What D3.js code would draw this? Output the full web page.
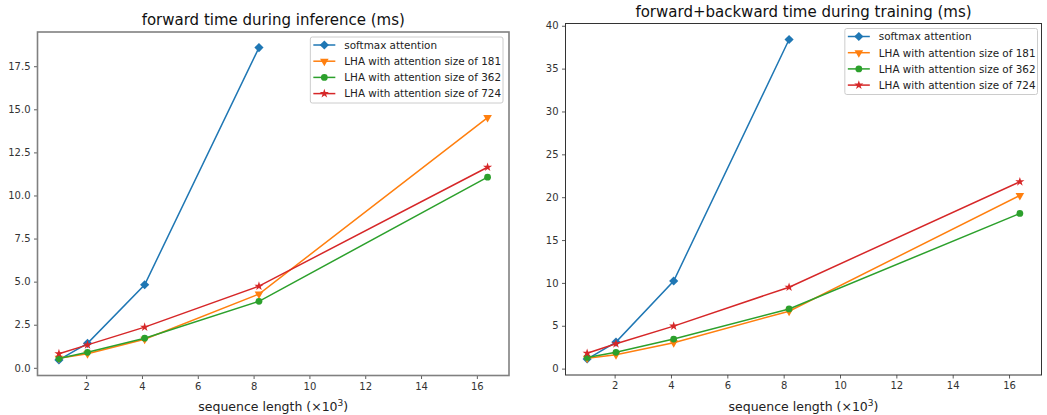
<!DOCTYPE html>
<html>
<head>
<meta charset="utf-8">
<script src="https://cdn.jsdelivr.net/npm/d3@7"></script>
<style>
  body { margin: 0; background: #fff; }
  svg { display: block; font-family: "DejaVu Sans", sans-serif; }
</style>
</head>
<body>
<svg id="chart" width="1047" height="415"></svg>
<script>
// sequence length in thousands
var seqLen = [1.024, 2.048, 4.096, 8.192, 16.384];

var seriesNames = ["softmax attention", "LHA with attention size of 181",
  "LHA with attention size of 362", "LHA with attention size of 724"];
var colors = ["#1f77b4", "#ff7f0e", "#2ca02c", "#d62728"];
var markers = ["diamond", "triangle", "circle", "star"];

// inference, forward only (ms)
var inferSoftmax = [0.46, 1.42, 4.82, 18.58];
var infer181 = [0.56, 0.82, 1.66, 4.28, 14.52];
var infer362 = [0.54, 0.90, 1.72, 3.86, 11.06];
var infer724 = [0.82, 1.33, 2.36, 4.74, 11.64];

// training, forward + backward (ms)
var trainSoftmax = [1.12, 3.10, 10.22, 38.40];
var train181 = [1.20, 1.62, 3.02, 6.70, 20.20];
var train362 = [1.30, 1.90, 3.45, 6.96, 18.10];
var train724 = [1.80, 2.90, 4.96, 9.50, 21.80];

var yTicksLeft = [0, 2.5, 5, 7.5, 10, 12.5, 15, 17.5];
var yTicksRight = [0, 5, 10, 15, 20, 25, 30, 35, 40];
var xTicks = [2, 4, 6, 8, 10, 12, 14, 16];

var svg = d3.select("#chart");

function markerPath(kind) {
  if (kind == "diamond") return d3.symbol(d3.symbolSquare, 42)();
  if (kind == "triangle") return d3.symbol(d3.symbolTriangle, 32)();
  if (kind == "circle") return d3.symbol(d3.symbolCircle, 36)();
  return d3.symbol(d3.symbolStar, 26)();
}
function markerRotate(kind) {
  if (kind == "diamond") return 45;
  if (kind == "triangle") return 180;
  return 0;
}

function drawPanel(opt) {
  var g = svg.append("g");
  var all = d3.merge(opt.series);
  var ext = d3.extent(all), pad = (ext[1] - ext[0]) * 0.05;
  var xe = d3.extent(seqLen), xpad = (xe[1] - xe[0]) * 0.05;

  var x = d3.scaleLinear().domain([xe[0] - xpad, xe[1] + xpad]).range([opt.left, opt.right]);
  var y = d3.scaleLinear().domain([ext[0] - pad, ext[1] + pad]).range([opt.bottom, opt.top]);

  // axes
  var xAxis = g.append("g")
    .attr("transform", "translate(0," + opt.bottom + ")")
    .call(d3.axisBottom(x).tickValues(xTicks).tickSize(3.5).tickPadding(3.5).tickFormat(d3.format("d")));
  var yAxis = g.append("g")
    .attr("transform", "translate(" + opt.left + ",0)")
    .call(d3.axisLeft(y).tickValues(opt.yTicks).tickSize(3.5).tickPadding(3.5).tickFormat(d3.format(opt.yFormat)));
  [xAxis, yAxis].forEach(function (a) {
    a.select(".domain").remove();
    a.selectAll("line").attr("stroke", "#333").attr("stroke-width", 0.8);
    a.selectAll("text").attr("fill", "#333").style("font-size", "10px").style("font-family", "DejaVu Sans");
  });

  // lines + markers
  opt.series.forEach(function (vals, i) {
    var pts = vals.map(function (v, j) { return [seqLen[j], v]; });
    g.append("path")
      .datum(pts)
      .attr("fill", "none")
      .attr("stroke", colors[i])
      .attr("stroke-width", 1.5)
      .attr("d", d3.line().x(function (d) { return x(d[0]); }).y(function (d) { return y(d[1]); }));
    g.selectAll(".m" + i)
      .data(pts)
      .enter()
      .append("path")
      .attr("d", markerPath(markers[i]))
      .attr("fill", colors[i])
      .attr("transform", function (d) {
        return "translate(" + x(d[0]) + "," + y(d[1]) + ") rotate(" + markerRotate(markers[i]) + ")";
      });
  });

  // frame
  g.append("rect")
    .attr("x", opt.left).attr("y", opt.top)
    .attr("width", opt.right - opt.left).attr("height", opt.bottom - opt.top)
    .attr("fill", "none")
    .attr("stroke", opt.frameColor)
    .attr("stroke-width", opt.frameWidth);

  // title
  g.append("text")
    .attr("x", (opt.left + opt.right) / 2)
    .attr("y", opt.titleY)
    .attr("text-anchor", "middle")
    .attr("fill", "#111")
    .style("font-size", "15px")
    .text(opt.title);

  // x label
  var xl = g.append("text")
    .attr("x", (opt.left + opt.right) / 2)
    .attr("y", 410.5)
    .attr("text-anchor", "middle")
    .attr("fill", "#222")
    .style("font-size", "12.5px");
  xl.append("tspan").text("sequence length (\u00d710");
  xl.append("tspan").attr("dy", -5).style("font-size", "9px").text("3");
  xl.append("tspan").attr("dy", 5).text(")");

  // legend
  var lg = g.append("g");
  var box = lg.append("rect")
    .attr("fill", "#fff").attr("fill-opacity", 0.8)
    .attr("stroke", "#ccc").attr("stroke-width", 1)
    .attr("rx", 2);
  var maxW = 0;
  seriesNames.forEach(function (name, i) {
    var ry = opt.top + 13 + i * 16.2;
    lg.append("line")
      .attr("x1", 0).attr("x2", 22).attr("y1", ry).attr("y2", ry)
      .attr("stroke", colors[i]).attr("stroke-width", 1.5);
    lg.append("path")
      .attr("d", markerPath(markers[i]))
      .attr("fill", colors[i])
      .attr("transform", "translate(11," + ry + ") rotate(" + markerRotate(markers[i]) + ")");
    var t = lg.append("text")
      .attr("x", 31).attr("y", ry + 3.8)
      .attr("fill", "#222")
      .style("font-size", "10.4px")
      .text(name);
    maxW = Math.max(maxW, t.node().getComputedTextLength());
  });
  var bw = 31 + maxW + 5;
  var bx = opt.right - opt.legendGap - bw;
  box.attr("x", -3).attr("y", opt.top + 5)
    .attr("width", bw).attr("height", 66);
  lg.attr("transform", "translate(" + (bx + 3) + ",0)");
}

drawPanel({
  left: 37.5, right: 509, top: 32, bottom: 375.5,
  series: [inferSoftmax, infer181, infer362, infer724],
  yTicks: yTicksLeft, yFormat: ".1f",
  frameColor: "#808080", frameWidth: 1.6,
  title: "forward time during inference (ms)", titleY: 25,
  legendGap: 6
});

drawPanel({
  left: 565.5, right: 1041.5, top: 23.5, bottom: 375,
  series: [trainSoftmax, train181, train362, train724],
  yTicks: yTicksRight, yFormat: "d",
  frameColor: "#333", frameWidth: 1,
  title: "forward+backward time during training (ms)", titleY: 16.5,
  legendGap: 4
});
</script>
</body>
</html>
